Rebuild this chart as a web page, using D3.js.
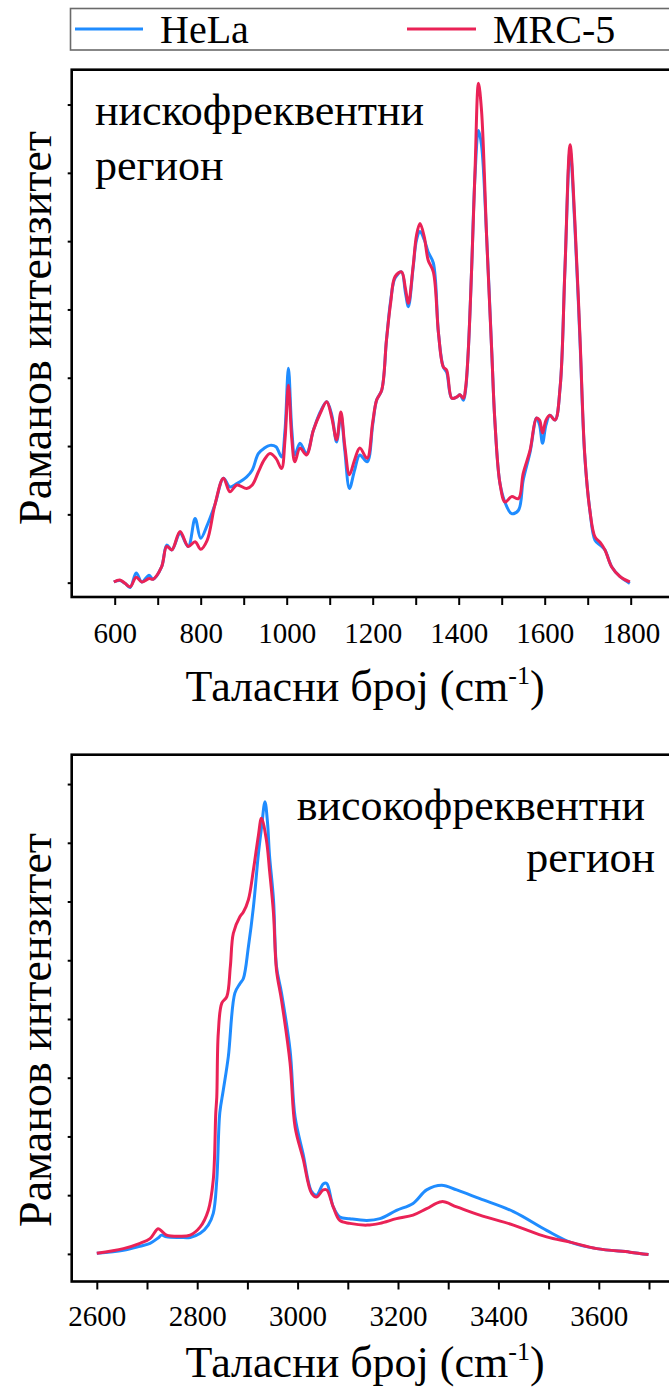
<!DOCTYPE html>
<html><head><meta charset="utf-8">
<script src="https://cdn.jsdelivr.net/npm/d3@7"></script>
<style>
html,body{margin:0;padding:0;background:#fff;overflow:hidden;}
svg{display:block;}
</style></head>
<body>
<script>
// ---------- DATA ----------
const seriesNames = ["HeLa", "MRC-5"];
const seriesColors = ["#1f8cff", "#ea2256"];

// Low-frequency region (cm-1) and intensities (arb. units)
const lowWave = [598,612,624,636,650,663,680,689,709,721,733,752,771,787,800,815,833,853,868,884,907,920,934,948,961,975,988,996,1004,1012,1019,1031,1046,1062,1078,1093,1105,1116,1126,1135,1146,1158,1170,1187,1200,1209,1221,1232,1242,1252,1267,1276,1283,1294,1302,1310,1320,1329,1341,1353,1364,1372,1384,1396,1403,1411,1416,1422,1430,1438,1446,1453,1465,1477,1484,1496,1508,1523,1539,1550,1566,1581,1588,1595,1603,1612,1624,1636,1647,1659,1670,1682,1693,1705,1717,1729,1740,1756,1775,1798];
const lowHeLa = [0.01,0.03,-0.01,-0.07,0.14,0.01,0.11,0.05,0.23,0.55,0.48,0.72,0.53,0.94,0.65,0.84,1.14,1.53,1.40,1.45,1.55,1.65,1.89,1.97,2.01,1.99,1.84,2.23,3.14,2.23,1.87,2.04,1.89,2.23,2.50,2.65,2.45,2.06,2.45,1.94,1.38,1.65,1.87,1.77,2.31,2.67,2.82,3.55,4.14,4.46,4.55,4.25,4.04,4.61,5.02,5.14,5.02,4.84,4.68,3.65,3.16,3.08,2.70,2.72,2.75,2.67,2.82,3.36,4.58,5.97,6.62,6.41,5.06,3.36,2.38,1.45,1.17,1.01,1.06,1.50,1.91,2.41,2.31,2.04,2.31,2.45,2.38,2.87,4.58,6.32,5.24,3.55,1.87,1.06,0.62,0.55,0.48,0.23,0.09,-0.01];
const lowMRC5 = [0.01,0.04,-0.01,-0.06,0.08,0.01,0.06,0.05,0.23,0.53,0.48,0.75,0.53,0.60,0.49,0.62,1.14,1.53,1.33,1.43,1.38,1.43,1.62,1.80,1.89,1.82,1.67,2.09,2.89,2.09,1.77,1.97,1.87,2.23,2.48,2.65,2.41,2.09,2.50,2.01,1.58,1.80,1.97,1.82,2.35,2.67,2.82,3.55,4.11,4.48,4.55,4.31,4.09,4.63,5.09,5.26,5.06,4.72,4.55,3.65,3.16,3.11,2.70,2.72,2.75,2.70,2.85,3.36,4.58,6.04,7.31,6.92,5.06,3.36,2.38,1.45,1.18,1.26,1.23,1.60,1.94,2.41,2.38,2.19,2.38,2.45,2.38,2.87,4.58,6.41,5.31,3.60,1.89,1.06,0.67,0.59,0.48,0.23,0.09,0.01];

// High-frequency region
const highWaveHeLa = [2600,2653,2686,2706,2722,2729,2739,2766,2786,2806,2822,2832,2839,2845,2852,2862,2875,2885,2892,2902,2912,2922,2928,2935,2940,2944,2952,2958,2968,2985,2995,3011,3028,3038,3051,3058,3071,3084,3104,3138,3164,3197,3230,3257,3287,3317,3363,3430,3496,3543,3596,3662,3699];
const highHeLa = [0.01,0.06,0.13,0.18,0.27,0.32,0.29,0.28,0.28,0.35,0.49,0.69,1.26,2.40,2.79,3.36,4.44,4.60,4.69,5.23,5.91,6.82,7.25,7.70,7.35,6.79,6.03,4.89,4.44,3.47,2.33,1.70,1.06,1.00,1.19,1.20,0.80,0.63,0.60,0.57,0.60,0.74,0.86,1.09,1.17,1.09,0.94,0.72,0.40,0.20,0.09,0.03,-0.01];
const highWaveMRC5 = [2600,2653,2686,2706,2722,2729,2739,2766,2786,2806,2822,2832,2837,2839,2842,2849,2859,2866,2872,2885,2892,2902,2912,2922,2928,2938,2944,2952,2958,2968,2985,2995,3011,3028,3038,3051,3058,3071,3084,3104,3138,3164,3197,3230,3257,3287,3317,3363,3430,3496,3543,3596,3662,3699];
const highMRC5 = [0.01,0.09,0.18,0.26,0.43,0.39,0.32,0.30,0.32,0.46,0.74,1.26,2.40,2.67,3.76,4.27,4.38,4.89,5.46,5.74,5.82,6.03,6.54,7.13,7.42,7.04,6.54,5.80,4.83,4.32,3.25,2.16,1.62,1.03,0.97,1.09,1.09,0.80,0.57,0.52,0.49,0.52,0.60,0.66,0.77,0.89,0.80,0.66,0.49,0.29,0.20,0.09,0.03,-0.01];

const lowTicksMajor = [600,800,1000,1200,1400,1600,1800];
const lowTicksAll = [600,700,800,900,1000,1100,1200,1300,1400,1500,1600,1700,1800,1900];
const highTicksMajor = [2600,2800,3000,3200,3400,3600];
const highTicksAll = [2600,2700,2800,2900,3000,3100,3200,3300,3400,3500,3600,3700];
const lowYTicks = [0,1,2,3,4,5,6,7];
const highYTicks = [0,1,2,3,4,5,6,7,8];

const xTitle = "Таласни број (cm";
const yTitle = "Раманов интензитет";
const lowLabel = ["нискофреквентни", "регион"];
const highLabel = ["високофреквентни", "регион"];

// ---------- DRAW ----------
const FONT = '"Liberation Serif", "Times New Roman", serif';
const W = 669, H = 1391;
const svg = d3.select("body").append("svg").attr("width", W).attr("height", H)
  .attr("font-family", FONT);

// Legend
const lg = svg.append("g");
lg.append("rect").attr("x", 70.5).attr("y", 8.5).attr("width", 700).attr("height", 41.5)
  .attr("fill", "none").attr("stroke", "#6a6a6a").attr("stroke-width", 1.6);
const legendItems = [{x1:75,x2:143,tx:160},{x1:407,x2:476,tx:493}];
legendItems.forEach((it, i) => {
  lg.append("line").attr("x1", it.x1).attr("x2", it.x2).attr("y1", 29).attr("y2", 29)
    .attr("stroke", seriesColors[i]).attr("stroke-width", 3.2);
  lg.append("text").attr("x", it.tx).attr("y", 43).attr("font-size", 40)
    .attr("font-family", FONT).attr("fill", "#000").text(seriesNames[i]);
});

function panel(cfg) {
  const g = svg.append("g");
  const x = d3.scaleLinear().domain(cfg.xDomain).range([cfg.left, cfg.right]);
  const y = d3.scaleLinear().domain(cfg.yDomain).range([cfg.bottom, cfg.top]);

  // frame
  g.append("rect").attr("x", cfg.left).attr("y", cfg.top)
    .attr("width", 760 - cfg.left).attr("height", cfg.bottom - cfg.top)
    .attr("fill", "none").attr("stroke", "#000").attr("stroke-width", 2.6);

  // x axis ticks
  const xa = g.append("g").attr("transform", `translate(0,${cfg.bottom})`)
    .call(d3.axisBottom(x).tickValues(cfg.xTicksAll).tickSize(8).tickFormat(""));
  xa.select(".domain").remove();
  xa.selectAll("line").attr("stroke", "#000").attr("stroke-width", 2);
  const xl = g.append("g").attr("transform", `translate(0,${cfg.bottom})`)
    .call(d3.axisBottom(x).tickValues(cfg.xTicksMajor).tickSize(0).tickPadding(0).tickFormat(d3.format("d")));
  xl.attr("font-family", FONT);
  xl.select(".domain").remove();
  xl.selectAll("text").attr("y", cfg.labelDy).attr("dy", 0).attr("font-size", 29)
    .attr("font-family", FONT).attr("fill", "#000");

  // y axis ticks
  const ya = g.append("g").attr("transform", `translate(${cfg.left},0)`)
    .call(d3.axisLeft(y).tickValues(cfg.yTicks).tickSize(4).tickFormat(""));
  ya.select(".domain").remove();
  ya.selectAll("line").attr("stroke", "#000").attr("stroke-width", 2);

  // lines
  const line = d3.line().x(d => x(d[0])).y(d => y(d[1])).curve(d3.curveCatmullRom.alpha(0.5));
  cfg.series.forEach((s, i) => {
    g.append("path").datum(d3.zip(s.wave, s.vals)).attr("d", line)
      .attr("fill", "none").attr("stroke", seriesColors[i]).attr("stroke-width", 3)
      .attr("stroke-linejoin", "round");
  });

  // x title
  const t = g.append("text").attr("x", cfg.xTitleX).attr("y", cfg.xTitleY)
    .attr("font-size", 44).attr("text-anchor", "middle").attr("font-family", FONT).attr("fill", "#000");
  t.append("tspan").text(xTitle);
  t.append("tspan").attr("font-size", 26).attr("dy", -17).text("-1");
  t.append("tspan").attr("dy", 17).text(")");

  // y title
  g.append("text").attr("transform", `translate(${cfg.yTitleX},${cfg.yTitleY}) rotate(-90)`)
    .attr("font-size", 46).attr("text-anchor", "middle").attr("font-family", FONT).attr("fill", "#000")
    .text(yTitle);

  // region label
  cfg.label.forEach((l, i) => {
    g.append("text").attr("x", cfg.labelPos[i][0]).attr("y", cfg.labelPos[i][1])
      .attr("font-size", 44).attr("text-anchor", cfg.labelAnchor)
      .attr("font-family", FONT).attr("fill", "#000").text(l);
  });
}

panel({
  xDomain: [500, 2000], left: 71.7, right: 716.7,
  yDomain: [-0.21, 7.51], top: 69.7, bottom: 597,
  xTicksAll: lowTicksAll, xTicksMajor: lowTicksMajor, yTicks: lowYTicks,
  labelDy: 46,
  series: [{wave: lowWave, vals: lowHeLa}, {wave: lowWave, vals: lowMRC5}],
  xTitleX: 365, xTitleY: 701, yTitleX: 51, yTitleY: 328,
  label: lowLabel, labelPos: [[95, 125], [95, 180]], labelAnchor: "start"
});

panel({
  xDomain: [2550, 3800], left: 71.7, right: 699.2,
  yDomain: [-0.47, 8.50], top: 754.7, bottom: 1281.5,
  xTicksAll: highTicksAll, xTicksMajor: highTicksMajor, yTicks: highYTicks,
  labelDy: 44,
  series: [{wave: highWaveHeLa, vals: highHeLa}, {wave: highWaveMRC5, vals: highMRC5}],
  xTitleX: 365, xTitleY: 1377, yTitleX: 51, yTitleY: 1030,
  label: highLabel, labelPos: [[645, 820], [655, 872]], labelAnchor: "end"
});
</script>
</body></html>
